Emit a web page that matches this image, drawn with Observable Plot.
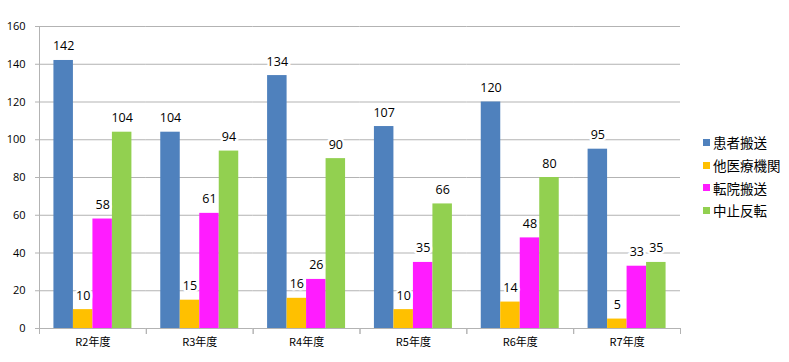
<!DOCTYPE html>
<html>
<head>
<meta charset="utf-8">
<script src="https://cdn.jsdelivr.net/npm/d3@7"></script>
<script src="https://cdn.jsdelivr.net/npm/@observablehq/plot@0.6"></script>
<style>
  body { margin: 0; background: #fff; }
  #wrap { position: relative; width: 789px; height: 362px; }
  #legend { position: absolute; left: 703px; top: 131px; font-family: "Noto Sans CJK JP", sans-serif; font-size: 13.5px; color: #000; }
  #legend .row { display: flex; align-items: center; height: 22.7px; }
  #legend .sw { width: 7px; height: 7px; margin-right: 3px; }
</style>
</head>
<body>
<div id="wrap"><div id="legend"></div></div>
<script>
const years = ["R2年度", "R3年度", "R4年度", "R5年度", "R6年度", "R7年度"];
const series = ["患者搬送", "他医療機関", "転院搬送", "中止反転"];
const colors = ["#4F81BD", "#FFC000", "#FF1CFF", "#92D050"];
const patientTransport = [142, 104, 134, 107, 120, 95];
const otherHospital = [10, 15, 16, 10, 14, 5];
const transfer = [58, 61, 26, 35, 48, 33];
const cancelled = [104, 94, 90, 66, 80, 35];
const yTicks = [0, 20, 40, 60, 80, 100, 120, 140, 160];

const valuesBySeries = [patientTransport, otherHospital, transfer, cancelled];
const data = years.flatMap((yr, i) => series.map((s, j) => ({year: yr, series: s, value: valuesBySeries[j][i]})));

const grid = "#B3B3B3";
const chart = Plot.plot({
  width: 789,
  height: 362,
  marginLeft: 39,
  marginRight: 109,
  marginTop: 26,
  marginBottom: 34,
  style: {fontFamily: "'Open Sans', 'Noto Sans CJK JP', sans-serif", background: "white", color: "black"},
  fx: {domain: years, padding: 0, round: false, label: null, axis: null},
  x: {domain: series, paddingInner: 0, paddingOuter: 0.74, round: false, axis: null},
  y: {domain: [0, 160], axis: null},
  color: {domain: series, range: colors},
  marks: [
    Plot.ruleY(yTicks, {stroke: grid, strokeWidth: 1}),
    Plot.frame({anchor: "left", stroke: grid, facet: "super"}),
    Plot.frame({anchor: "left", stroke: grid, insetTop: 302, insetBottom: -5}),
    Plot.frame({anchor: "right", stroke: grid, insetTop: 302, insetBottom: -5}),
    Plot.barY(data, {fx: "year", x: "series", y: "value", fill: "series"}),
    Plot.text(data, {fx: "year", x: "series", y: "value", text: "value", dy: -14, fill: "black", stroke: "white", strokeWidth: 5, fontSize: 12.5}),
    Plot.axisY({ticks: yTicks, tickSize: 4, tickPadding: 10, stroke: grid, fill: "black", fontSize: 11, label: null}),
    Plot.axisFx({anchor: "bottom", tickSize: 0, tickPadding: 10, fontSize: 11, label: null, fontFamily: "'Noto Sans CJK JP', sans-serif"})
  ]
});
document.getElementById("wrap").prepend(chart);

const legend = document.getElementById("legend");
series.forEach((s, i) => {
  const row = document.createElement("div");
  row.className = "row";
  row.innerHTML = `<span class="sw" style="background:${colors[i]}"></span><span>${s}</span>`;
  legend.appendChild(row);
});
</script>
</body>
</html>
